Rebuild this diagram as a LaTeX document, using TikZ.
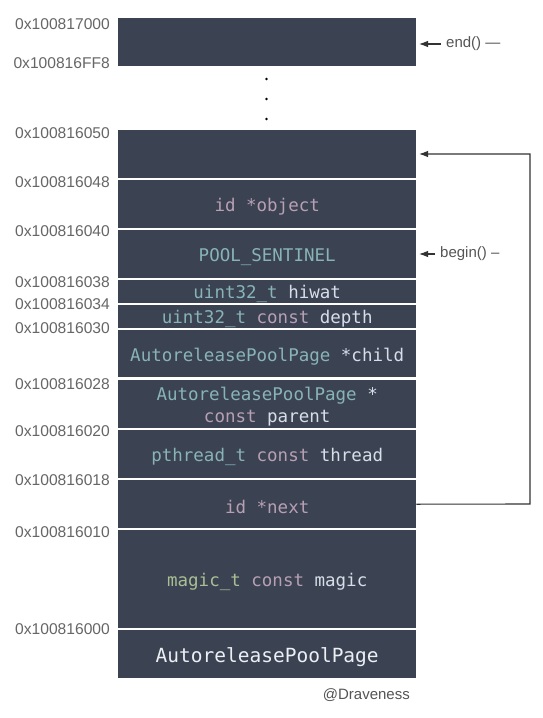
\documentclass[tikz,border=0pt]{standalone}
\usepackage{fontspec}
\setmainfont{Liberation Sans}
\newfontfamily\codefont{DejaVu Sans Mono}
\usetikzlibrary{arrows.meta}
\definecolor{blockbg}{HTML}{3B4252}
\definecolor{codeteal}{HTML}{88B4B6}
\definecolor{codemauve}{HTML}{B8A0B4}
\definecolor{codelight}{HTML}{D8DEE9}
\definecolor{codegreen}{HTML}{A9BF93}
\definecolor{titlewhite}{HTML}{ECEFF4}
\definecolor{addrgray}{HTML}{666666}
\definecolor{labelgray}{HTML}{555555}
\definecolor{linkgray}{HTML}{333333}
\newcommand\CType[1]{\textcolor{codeteal}{#1}}
\newcommand\CKw[1]{\textcolor{codemauve}{#1}}
\newcommand\CVar[1]{\textcolor{codelight}{#1}}
\newcommand\CMag[1]{\textcolor{codegreen}{#1}}
\begin{document}
\begin{tikzpicture}[x=1pt,y=-1pt,
  blockbox/.style={fill=blockbg, draw=none, inner sep=0pt, minimum width=298pt,
    anchor=north west},
  codetext/.style={inner sep=0pt, text=codelight, align=center, yshift=-2.5pt,
    font=\codefont\fontsize{17.5}{22.7}\selectfont},
  addr/.style={anchor=east, inner sep=0pt, text=addrgray, font=\fontsize{15.6}{18}\selectfont},
  ptrlabel/.style={anchor=west, inner xsep=5pt, inner ysep=0pt, text=labelgray, font=\fontsize{15}{18}\selectfont},
  link/.style={draw=linkgray, line width=1.1pt, -{Latex[length=9pt,width=6.5pt]}},
  credit/.style={anchor=east, inner sep=0pt, text=labelgray, font=\fontsize{15}{18}\selectfont},
]
\useasboundingbox[fill=white] (0,0) rectangle (542,718);

% memory blocks
\node[blockbox, minimum height=48pt] (top) at (118,18) {};
\node[blockbox, minimum height=48pt] (empty) at (118,130) {};
\node[blockbox, minimum height=48pt] (object) at (118,180) {};
\node[blockbox, minimum height=48pt] (sentinel) at (118,230) {};
\node[blockbox, minimum height=23pt] (hiwat) at (118,280) {};
\node[blockbox, minimum height=23pt] (depth) at (118,305) {};
\node[blockbox, minimum height=47pt] (child) at (118,330) {};
\node[blockbox, minimum height=48pt] (parent) at (118,380) {};
\node[blockbox, minimum height=48pt] (thread) at (118,430) {};
\node[blockbox, minimum height=48pt] (next) at (118,480) {};
\node[blockbox, minimum height=98pt] (magic) at (118,530) {};
\node[blockbox, minimum height=48pt] (page) at (118,630) {};

% block texts
\node[codetext] (objectT) at (object.center) {\CKw{id *object}};
\node[codetext] (sentinelT) at (sentinel.center) {\CType{POOL\_SENTINEL}};
\node[codetext] (hiwatT) at (hiwat.center) {\CType{uint32\_t} \CVar{hiwat}};
\node[codetext] (depthT) at (depth.center) {\CType{uint32\_t} \CKw{const} \CVar{depth}};
\node[codetext] (childT) at (child.center) {\CType{AutoreleasePoolPage} \CVar{*child}};
\node[codetext] (parentT) at (parent.center) {\CType{AutoreleasePoolPage} \CVar{*}\\\CKw{const} \CVar{parent}};
\node[codetext] (threadT) at (thread.center) {\CType{pthread\_t} \CKw{const} \CVar{thread}};
\node[codetext] (nextT) at (next.center) {\CKw{id *next}};
\node[codetext] (magicT) at (magic.center) {\CMag{magic\_t} \CKw{const} \CVar{magic}};
\node[codetext, text=titlewhite, font=\codefont\fontsize{19.5}{22}\selectfont] (pageT) at (page.center) {AutoreleasePoolPage};

% ellipsis dots
\fill[black] (266.5,79) circle (1.3);
\fill[black] (266.5,99) circle (1.3);
\fill[black] (266.5,119) circle (1.3);

% addresses
\node[addr] (a1) at (110,24) {0x100817000};
\node[addr] (a2) at (110,62.7) {0x100816FF8};
\node[addr] (a3) at (110,132.7) {0x100816050};
\node[addr] (a4) at (110,181.7) {0x100816048};
\node[addr] (a5) at (110,230.7) {0x100816040};
\node[addr] (a6) at (110,281.7) {0x100816038};
\node[addr] (a7) at (110,304.3) {0x100816034};
\node[addr] (a8) at (110,328.3) {0x100816030};
\node[addr] (a9) at (110,384.3) {0x100816028};
\node[addr] (a10) at (110,430.7) {0x100816020};
\node[addr] (a11) at (110,480) {0x100816018};
\node[addr] (a12) at (110,531.7) {0x100816010};
\node[addr] (a13) at (110,629.3) {0x100816000};

% end() and begin() pointers
\coordinate (endtip) at (419,44);
\node[ptrlabel] (endl) at (441,44) {end() —};
\draw[link] (endl.west) -- (endtip);

\coordinate (begintip) at (419,254);
\node[ptrlabel] (beginl) at (435,254) {begin() –};
\draw[link] (beginl.west) -- (begintip);

% next pointer
\coordinate (corner1) at (530,504);
\coordinate (corner2) at (530,154);
\coordinate (nexttip) at (419,154);
\draw[link] (next.east) -- (corner1) -- (corner2) -- (nexttip);

% credit
\node[credit] (credit) at (410,695) {@Draveness};
\end{tikzpicture}
\end{document}
